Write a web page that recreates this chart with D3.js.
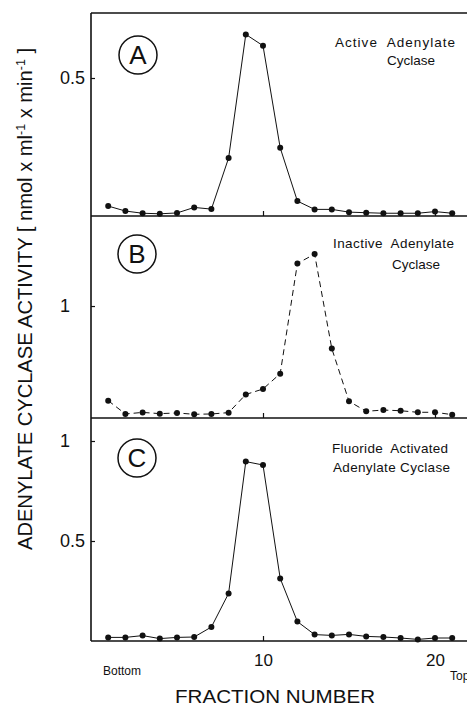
<!DOCTYPE html>
<html>
<head>
<meta charset="utf-8">
<script src="https://cdn.jsdelivr.net/npm/d3@7"></script>
<style>
  body { margin: 0; background: #fff; }
  svg text { font-family: "Liberation Sans", Arial, sans-serif; fill: #111; }
</style>
</head>
<body>
<div id="chart"></div>
<script>
// fraction numbers (bottom -> top of gradient)
const fractions = [1, 2, 3, 4, 5, 6, 7, 8, 9, 10, 11, 12, 13, 14, 15, 16, 17, 18, 19, 20, 21];

// activity values
const activeAC = [0.036, 0.018, 0.010, 0.008, 0.011, 0.031, 0.025, 0.21, 0.658, 0.617, 0.247,
    0.054, 0.024, 0.024, 0.014, 0.012, 0.010, 0.010, 0.010, 0.016, 0.010];
const inactiveAC = [0.155, 0.036, 0.05, 0.039, 0.045, 0.033, 0.036, 0.048, 0.21, 0.259, 0.396,
    1.38, 1.464, 0.62, 0.149, 0.06, 0.071, 0.065, 0.051, 0.051, 0.03];
const fluorideAC = [0.018, 0.018, 0.027, 0.012, 0.018, 0.02, 0.07, 0.238, 0.897, 0.88, 0.313,
    0.097, 0.032, 0.028, 0.033, 0.023, 0.02, 0.015, 0.008, 0.015, 0.015];

const xTicks = [10, 20];
const ticksA = [0.5];
const ticksB = [1];
const ticksC = [0.5, 1];

const width = 467, height = 710;
const left = 91;

const svg = d3.select('#chart')
    .append('svg')
    .attr('width', width)
    .attr('height', height);

var x = d3.scaleLinear()
    .domain([0, 22])
    .range([left, left + 22 * 17.2]);

// panels: pixel bands and the value at the top of each band
// text lines: [text, x, y, width or null]
const panels = [
    { key: 'A', data: activeAC, top: 13, bottom: 216, max: 0.7355, ticks: ticksA, dash: null,
      labelCx: 138, labelCy: 55,
      text: [['Active  Adenylate', 335, 47, 120], ['Cyclase', 387, 65, null]] },
    { key: 'B', data: inactiveAC, top: 216, bottom: 418, max: 1.804, ticks: ticksB, dash: '6,4',
      labelCx: 137, labelCy: 254,
      text: [['Inactive  Adenylate', 333, 248, 121], ['Cyclase', 392, 269, null]] },
    { key: 'C', data: fluorideAC, top: 418, bottom: 641, max: 1.115, ticks: ticksC, dash: null,
      labelCx: 137, labelCy: 458,
      text: [['Fluoride  Activated', 332, 453, 116], ['Adenylate Cyclase', 333, 472, 117]] }
];

panels.forEach((p, i) => {
    var y = d3.scaleLinear()
        .domain([0, p.max])
        .range([p.bottom, p.top]);

    // left axis with inward ticks
    var yAxis = svg.append('g')
        .attr('transform', 'translate(' + left + ',0)')
        .call(d3.axisLeft(y)
            .tickValues(p.ticks)
            .tickSize(-4)
            .tickPadding(6)
            .tickFormat(d => d === 1 ? '1' : d3.format('.1f')(d)));
    yAxis.select('.domain').remove();
    yAxis.selectAll('line').attr('stroke', '#111').attr('stroke-width', 1.2);
    yAxis.selectAll('text')
        .style('font-size', '18px')
        .attr('x', d => d === 1 ? -21 : -6);

    // bottom ticks of each panel
    var xAxis = svg.append('g')
        .attr('transform', 'translate(0,' + p.bottom + ')')
        .call(d3.axisBottom(x)
            .tickValues(xTicks)
            .tickSize(-5)
            .tickPadding(13)
            .tickFormat(i === 2 ? d3.format('d') : () => ''));
    xAxis.select('.domain').remove();
    xAxis.selectAll('line').attr('stroke', '#111').attr('stroke-width', 1.2);
    xAxis.selectAll('text').style('font-size', '17px');

    // bottom border of panel
    svg.append('line')
        .attr('x1', left).attr('x2', width)
        .attr('y1', p.bottom).attr('y2', p.bottom)
        .attr('stroke', '#111')
        .attr('stroke-width', 1.6);

    var line = d3.line()
        .x((d, j) => x(fractions[j]))
        .y(d => y(d));

    svg.append('path')
        .datum(p.data)
        .attr('d', line)
        .attr('fill', 'none')
        .attr('stroke', '#111')
        .attr('stroke-width', 1)
        .attr('stroke-dasharray', p.dash);

    svg.selectAll('.dot' + p.key)
        .data(p.data)
        .enter()
        .append('circle')
        .attr('class', 'dot' + p.key)
        .attr('cx', (d, j) => x(fractions[j]))
        .attr('cy', d => y(d))
        .attr('r', 3)
        .attr('fill', '#111');

    // circled panel letter
    svg.append('circle')
        .attr('cx', p.labelCx)
        .attr('cy', p.labelCy)
        .attr('r', 19)
        .attr('fill', 'none')
        .attr('stroke', '#111')
        .attr('stroke-width', 1.5);
    svg.append('text')
        .attr('x', p.labelCx)
        .attr('y', p.labelCy + 9)
        .attr('text-anchor', 'middle')
        .style('font-size', '26px')
        .text(p.key);

    p.text.forEach(t => {
        var txt = svg.append('text')
            .attr('x', t[1])
            .attr('y', t[2])
            .style('font-size', '13.5px')
            .style('white-space', 'pre')
            .text(t[0]);
        if (t[3]) {
            txt.attr('textLength', t[3]).attr('lengthAdjust', 'spacing');
        }
    });
});

// top border and left axis line
svg.append('line')
    .attr('x1', left).attr('x2', width)
    .attr('y1', 13).attr('y2', 13)
    .attr('stroke', '#111').attr('stroke-width', 1.6);
svg.append('line')
    .attr('x1', left).attr('x2', left)
    .attr('y1', 13).attr('y2', 641)
    .attr('stroke', '#111').attr('stroke-width', 1.6);

// bottom/top annotations
svg.append('text')
    .attr('x', 103).attr('y', 675)
    .style('font-size', '12px')
    .text('Bottom');
svg.append('text')
    .attr('x', 450).attr('y', 680)
    .style('font-size', '12px')
    .text('Top');

svg.append('text')
    .attr('x', 275).attr('y', 703)
    .attr('text-anchor', 'middle')
    .attr('textLength', 200)
    .attr('lengthAdjust', 'spacingAndGlyphs')
    .style('font-size', '19px')
    .text('FRACTION  NUMBER');

// rotated y title with superscripts
var yTitle = svg.append('text')
    .attr('transform', 'translate(32,299) rotate(-90)')
    .attr('text-anchor', 'middle')
    .attr('textLength', 502)
    .attr('lengthAdjust', 'spacingAndGlyphs')
    .style('font-size', '21px');
yTitle.append('tspan').text('ADENYLATE  CYCLASE  ACTIVITY  [ nmol  x  ml');
yTitle.append('tspan').attr('dy', -7).style('font-size', '13px').text('-1');
yTitle.append('tspan').attr('dy', 7).text('  x  min');
yTitle.append('tspan').attr('dy', -7).style('font-size', '13px').text('-1');
yTitle.append('tspan').attr('dy', 7).text(' ]');
</script>
</body>
</html>
